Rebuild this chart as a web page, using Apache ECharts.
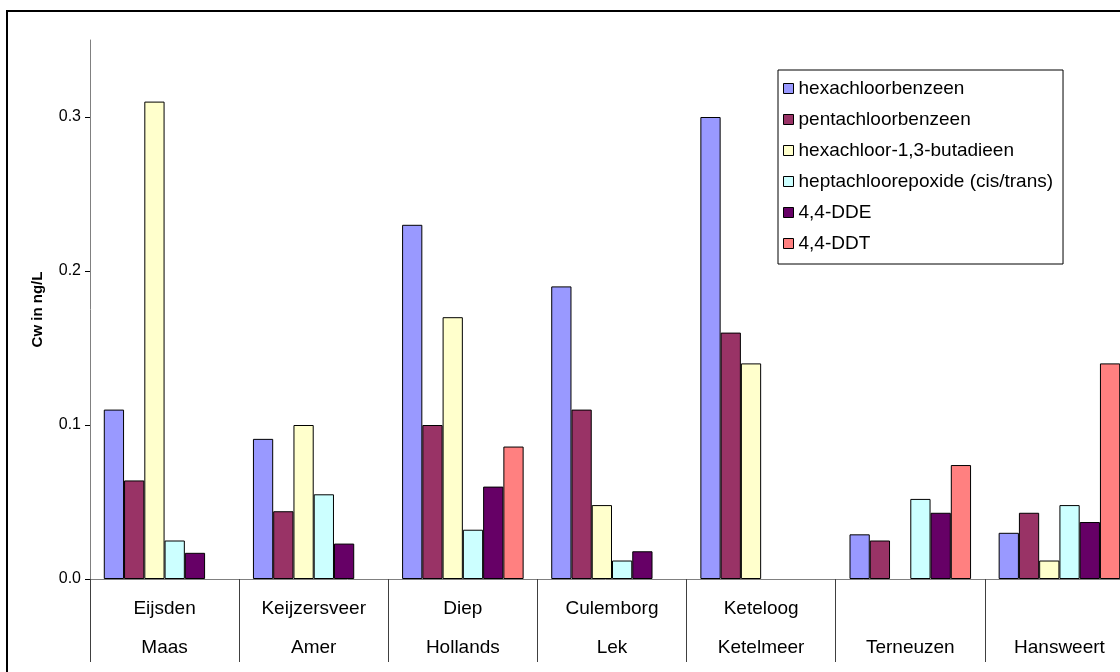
<!DOCTYPE html>
<html><head><meta charset="utf-8">
<script src="https://cdn.jsdelivr.net/npm/echarts@6/dist/echarts.min.js"></script>
<style>html,body{margin:0;padding:0;background:#fff}#c{width:1120px;height:672px}</style>
</head><body><div id="c"></div>
<script>
const stations = ['Eijsden', 'Keijzersveer', 'Diep', 'Culemborg', 'Keteloog', '', ''];
const waters = ['Maas', 'Amer', 'Hollands', 'Lek', 'Ketelmeer', 'Terneuzen', 'Hansweert'];
const seriesNames = ['hexachloorbenzeen', 'pentachloorbenzeen', 'hexachloor-1,3-butadieen',
  'heptachloorepoxide (cis/trans)', '4,4-DDE', '4,4-DDT'];
const hexachloorbenzeen = [0.11, 0.091, 0.23, 0.19, 0.30, 0.029, 0.030];
const pentachloorbenzeen = [0.064, 0.044, 0.10, 0.11, 0.16, 0.025, 0.043];
const hexachloorbutadieen = [0.31, 0.10, 0.17, 0.048, 0.14, null, 0.012];
const heptachloorepoxide = [0.025, 0.055, 0.032, 0.012, null, 0.052, 0.048];
const dde = [0.017, 0.023, 0.060, 0.018, null, 0.043, 0.037];
const ddt = [null, null, 0.086, null, null, 0.074, 0.14];
const yTicks = [0, 0.1, 0.2, 0.3];
const colors = ['#9999FF', '#993366', '#FFFFCC', '#CCFFFF', '#660066', '#FF8080'];

const allValues = [hexachloorbenzeen, pentachloorbenzeen, hexachloorbutadieen, heptachloorepoxide, dde, ddt];
const font = 'Liberation Sans, Arial, sans-serif';

const chart = echarts.init(document.getElementById('c'), null, {renderer: 'canvas'});
chart.setOption({
  animation: false,
  backgroundColor: '#fff',
  textStyle: {fontFamily: font},
  grid: {left: 90, top: 40, bottom: 93, right: -14, outerBoundsMode: 'none', containLabel: false},
  legend: {
    orient: 'vertical', left: 778, top: 70, icon: 'rect',
    itemWidth: 10, itemHeight: 10, itemGap: 12,
    padding: [9, 10, 11, 5],
    borderColor: '#000', borderWidth: 1,
    textStyle: {fontSize: 19, lineHeight: 19, color: '#000', fontFamily: font},
    itemStyle: {borderColor: '#000', borderWidth: 1},
    data: seriesNames
  },
  xAxis: {
    type: 'category',
    data: stations.map((s, i) => s + '\n' + waters[i]),
    axisLine: {lineStyle: {color: '#808080', width: 1}},
    axisTick: {show: true, length: 83, interval: 0, lineStyle: {color: '#404040'}},
    axisLabel: {interval: 0, color: '#000', fontSize: 19, fontFamily: font, lineHeight: 39, margin: 10}
  },
  yAxis: {
    type: 'value', min: 0, max: 0.35, interval: 0.1,
    axisLine: {show: true, lineStyle: {color: '#808080'}},
    axisTick: {show: true, length: 5, customValues: yTicks, lineStyle: {color: '#000'}},
    axisLabel: {customValues: yTicks, formatter: v => v.toFixed(1), fontSize: 16, color: '#000', margin: 9, fontFamily: font},
    splitLine: {show: false},
    name: 'Cw in ng/L', nameLocation: 'middle', nameGap: 45,
    nameTextStyle: {fontWeight: 'bold', fontSize: 15, color: '#000', fontFamily: font}
  },
  series: seriesNames.map((n, i) => ({
    name: n, type: 'bar', data: allValues[i],
    barGap: '0%', barCategoryGap: '18.5%',
    itemStyle: {color: colors[i], borderColor: '#000', borderWidth: 1}
  })),
  graphic: [{
    type: 'rect', silent: true, z: 100,
    shape: {x: 7, y: 11, width: 1300, height: 800},
    style: {fill: 'none', stroke: '#000', lineWidth: 2}
  }]
});
</script></body></html>
